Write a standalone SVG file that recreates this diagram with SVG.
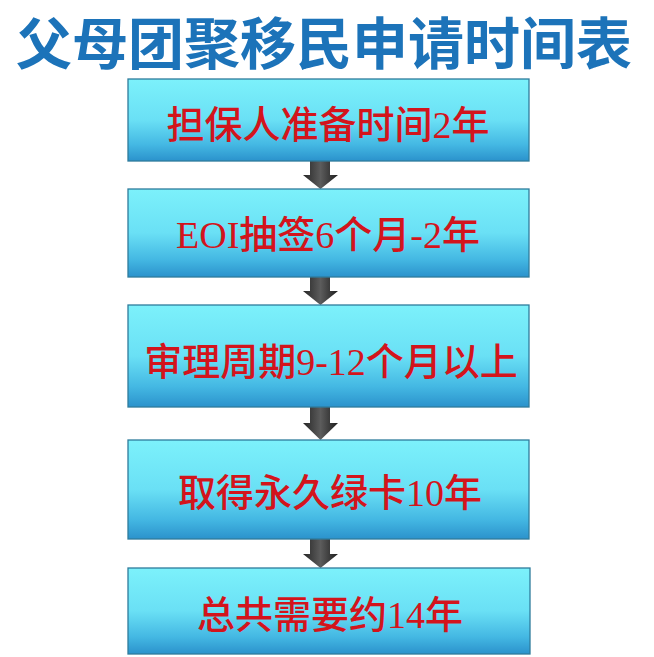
<svg xmlns="http://www.w3.org/2000/svg" width="654" height="657" viewBox="0 0 654 657">
  <defs>
    <linearGradient id="boxFill" x1="0" y1="0" x2="0" y2="1">
      <stop offset="0" stop-color="#7cf1fb"/>
      <stop offset="0.5" stop-color="#6ae0f5"/>
      <stop offset="0.8" stop-color="#44b8e3"/>
      <stop offset="1" stop-color="#2b92cc"/>
    </linearGradient>
    <linearGradient id="arrowFill" x1="0" y1="0" x2="1" y2="0">
      <stop offset="0" stop-color="#262626"/>
      <stop offset="0.5" stop-color="#5c5c5c"/>
      <stop offset="1" stop-color="#1e1e1e"/>
    </linearGradient>
    <style>
      .box { fill: url(#boxFill); stroke: #2e7c9c; stroke-width: 1.3; }
      .label { font-family: "Liberation Serif", "Noto Sans CJK SC", serif; font-size: 38px; font-weight: 500; fill: #d3141c; text-anchor: middle; }
      .title { font-family: "Noto Sans CJK SC", "Liberation Sans", sans-serif; font-size: 56px; font-weight: bold; fill: #1c73b9; text-anchor: middle; }
      .arrow { fill: url(#arrowFill); }
    </style>
  </defs>
  <rect width="654" height="657" fill="#ffffff"/>
  <g id="title">
    <text class="title" x="324" y="64">父母团聚移民申请时间表</text>
  </g>
  <g id="connectors">
    <path class="arrow" d="M310,161 H330 V175 H338 L320.5,189 L303,175 H310 Z"/>
    <path class="arrow" d="M310,277 H330 V291 H338 L320.5,305 L303,291 H310 Z"/>
    <path class="arrow" d="M310,407 H330 V423 H338 L320.5,440 L303,423 H310 Z"/>
    <path class="arrow" d="M310,539 H330 V554 H338 L320.5,568 L303,554 H310 Z"/>
  </g>
  <g id="node1">
    <rect class="box" x="128" y="79" width="401" height="82"/>
    <text class="label" x="328" y="138">担保人准备时间2年</text>
  </g>
  <g id="node2">
    <rect class="box" x="128" y="189" width="401" height="88"/>
    <text class="label" x="328" y="248">EOI抽签6个月-2年</text>
  </g>
  <g id="node3">
    <rect class="box" x="128" y="305" width="401" height="102"/>
    <text class="label" x="331" y="375">审理周期9-12个月以上</text>
  </g>
  <g id="node4">
    <rect class="box" x="128" y="440" width="401" height="99"/>
    <text class="label" x="330" y="506">取得永久绿卡10年</text>
  </g>
  <g id="node5">
    <rect class="box" x="128" y="568" width="402" height="86"/>
    <text class="label" x="330" y="628">总共需要约14年</text>
  </g>
</svg>
